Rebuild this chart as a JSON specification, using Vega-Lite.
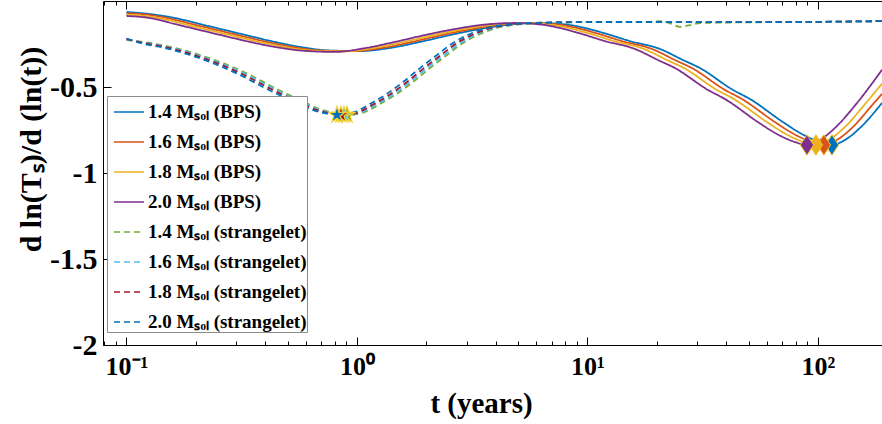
{
  "$schema": "https://vega.github.io/schema/vega-lite/v6.json",
  "width": 779,
  "height": 344,
  "autosize": "none",
  "padding": {"left": 103, "top": 1, "right": 0, "bottom": 79},
  "background": "white",
  "config": {"view": {"stroke": null}, "font": "Liberation Serif"},
  "datasets": {
    "curves": [
      {"series": "1.4 Mₛₒₗ (BPS)", "t": 0.1, "v": -0.064},
      {"series": "1.4 Mₛₒₗ (BPS)", "t": 0.1265, "v": -0.076},
      {"series": "1.4 Mₛₒₗ (BPS)", "t": 0.1623, "v": -0.099},
      {"series": "1.4 Mₛₒₗ (BPS)", "t": 0.2084, "v": -0.134},
      {"series": "1.4 Mₛₒₗ (BPS)", "t": 0.2676, "v": -0.169},
      {"series": "1.4 Mₛₒₗ (BPS)", "t": 0.3435, "v": -0.204},
      {"series": "1.4 Mₛₒₗ (BPS)", "t": 0.4408, "v": -0.238},
      {"series": "1.4 Mₛₒₗ (BPS)", "t": 0.5659, "v": -0.267},
      {"series": "1.4 Mₛₒₗ (BPS)", "t": 0.7637, "v": -0.288},
      {"series": "1.4 Mₛₒₗ (BPS)", "t": 1.03, "v": -0.291},
      {"series": "1.4 Mₛₒₗ (BPS)", "t": 1.391, "v": -0.273},
      {"series": "1.4 Mₛₒₗ (BPS)", "t": 1.877, "v": -0.238},
      {"series": "1.4 Mₛₒₗ (BPS)", "t": 2.532, "v": -0.198},
      {"series": "1.4 Mₛₒₗ (BPS)", "t": 3.418, "v": -0.163},
      {"series": "1.4 Mₛₒₗ (BPS)", "t": 4.611, "v": -0.137},
      {"series": "1.4 Mₛₒₗ (BPS)", "t": 6.221, "v": -0.128},
      {"series": "1.4 Mₛₒₗ (BPS)", "t": 8.398, "v": -0.14},
      {"series": "1.4 Mₛₒₗ (BPS)", "t": 11.33, "v": -0.18},
      {"series": "1.4 Mₛₒₗ (BPS)", "t": 15.29, "v": -0.233},
      {"series": "1.4 Mₛₒₗ (BPS)", "t": 20.63, "v": -0.279},
      {"series": "1.4 Mₛₒₗ (BPS)", "t": 25.96, "v": -0.343},
      {"series": "1.4 Mₛₒₗ (BPS)", "t": 30.77, "v": -0.39},
      {"series": "1.4 Mₛₒₗ (BPS)", "t": 42.78, "v": -0.517},
      {"series": "1.4 Mₛₒₗ (BPS)", "t": 50.7, "v": -0.57},
      {"series": "1.4 Mₛₒₗ (BPS)", "t": 70.5, "v": -0.704},
      {"series": "1.4 Mₛₒₗ (BPS)", "t": 83.55, "v": -0.767},
      {"series": "1.4 Mₛₒₗ (BPS)", "t": 102, "v": -0.82},
      {"series": "1.4 Mₛₒₗ (BPS)", "t": 115, "v": -0.837},
      {"series": "1.4 Mₛₒₗ (BPS)", "t": 130.9, "v": -0.808},
      {"series": "1.4 Mₛₒₗ (BPS)", "t": 152.1, "v": -0.738},
      {"series": "1.4 Mₛₒₗ (BPS)", "t": 189.6, "v": -0.593},

      {"series": "1.6 Mₛₒₗ (BPS)", "t": 0.1, "v": -0.072},
      {"series": "1.6 Mₛₒₗ (BPS)", "t": 0.1168, "v": -0.076},
      {"series": "1.6 Mₛₒₗ (BPS)", "t": 0.1498, "v": -0.099},
      {"series": "1.6 Mₛₒₗ (BPS)", "t": 0.1924, "v": -0.134},
      {"series": "1.6 Mₛₒₗ (BPS)", "t": 0.247, "v": -0.169},
      {"series": "1.6 Mₛₒₗ (BPS)", "t": 0.3171, "v": -0.204},
      {"series": "1.6 Mₛₒₗ (BPS)", "t": 0.4069, "v": -0.238},
      {"series": "1.6 Mₛₒₗ (BPS)", "t": 0.5223, "v": -0.267},
      {"series": "1.6 Mₛₒₗ (BPS)", "t": 0.7049, "v": -0.288},
      {"series": "1.6 Mₛₒₗ (BPS)", "t": 0.9507, "v": -0.292},
      {"series": "1.6 Mₛₒₗ (BPS)", "t": 1.284, "v": -0.273},
      {"series": "1.6 Mₛₒₗ (BPS)", "t": 1.732, "v": -0.238},
      {"series": "1.6 Mₛₒₗ (BPS)", "t": 2.337, "v": -0.198},
      {"series": "1.6 Mₛₒₗ (BPS)", "t": 3.155, "v": -0.163},
      {"series": "1.6 Mₛₒₗ (BPS)", "t": 4.256, "v": -0.137},
      {"series": "1.6 Mₛₒₗ (BPS)", "t": 5.742, "v": -0.128},
      {"series": "1.6 Mₛₒₗ (BPS)", "t": 7.751, "v": -0.14},
      {"series": "1.6 Mₛₒₗ (BPS)", "t": 10.46, "v": -0.18},
      {"series": "1.6 Mₛₒₗ (BPS)", "t": 14.11, "v": -0.233},
      {"series": "1.6 Mₛₒₗ (BPS)", "t": 19.04, "v": -0.279},
      {"series": "1.6 Mₛₒₗ (BPS)", "t": 23.96, "v": -0.343},
      {"series": "1.6 Mₛₒₗ (BPS)", "t": 28.4, "v": -0.39},
      {"series": "1.6 Mₛₒₗ (BPS)", "t": 39.49, "v": -0.517},
      {"series": "1.6 Mₛₒₗ (BPS)", "t": 46.8, "v": -0.57},
      {"series": "1.6 Mₛₒₗ (BPS)", "t": 65.07, "v": -0.704},
      {"series": "1.6 Mₛₒₗ (BPS)", "t": 77.12, "v": -0.767},
      {"series": "1.6 Mₛₒₗ (BPS)", "t": 94.15, "v": -0.82},
      {"series": "1.6 Mₛₒₗ (BPS)", "t": 106.1, "v": -0.837},
      {"series": "1.6 Mₛₒₗ (BPS)", "t": 120.8, "v": -0.808},
      {"series": "1.6 Mₛₒₗ (BPS)", "t": 140.4, "v": -0.738},
      {"series": "1.6 Mₛₒₗ (BPS)", "t": 175, "v": -0.593},
      {"series": "1.6 Mₛₒₗ (BPS)", "t": 189.6, "v": -0.54},

      {"series": "1.8 Mₛₒₗ (BPS)", "t": 0.1, "v": -0.079},
      {"series": "1.8 Mₛₒₗ (BPS)", "t": 0.1383, "v": -0.099},
      {"series": "1.8 Mₛₒₗ (BPS)", "t": 0.1776, "v": -0.134},
      {"series": "1.8 Mₛₒₗ (BPS)", "t": 0.228, "v": -0.169},
      {"series": "1.8 Mₛₒₗ (BPS)", "t": 0.2927, "v": -0.204},
      {"series": "1.8 Mₛₒₗ (BPS)", "t": 0.3756, "v": -0.238},
      {"series": "1.8 Mₛₒₗ (BPS)", "t": 0.4821, "v": -0.267},
      {"series": "1.8 Mₛₒₗ (BPS)", "t": 0.6507, "v": -0.289},
      {"series": "1.8 Mₛₒₗ (BPS)", "t": 0.8776, "v": -0.293},
      {"series": "1.8 Mₛₒₗ (BPS)", "t": 1.185, "v": -0.273},
      {"series": "1.8 Mₛₒₗ (BPS)", "t": 1.599, "v": -0.238},
      {"series": "1.8 Mₛₒₗ (BPS)", "t": 2.157, "v": -0.198},
      {"series": "1.8 Mₛₒₗ (BPS)", "t": 2.912, "v": -0.163},
      {"series": "1.8 Mₛₒₗ (BPS)", "t": 3.929, "v": -0.137},
      {"series": "1.8 Mₛₒₗ (BPS)", "t": 5.3, "v": -0.128},
      {"series": "1.8 Mₛₒₗ (BPS)", "t": 7.155, "v": -0.14},
      {"series": "1.8 Mₛₒₗ (BPS)", "t": 9.653, "v": -0.18},
      {"series": "1.8 Mₛₒₗ (BPS)", "t": 13.03, "v": -0.233},
      {"series": "1.8 Mₛₒₗ (BPS)", "t": 17.58, "v": -0.279},
      {"series": "1.8 Mₛₒₗ (BPS)", "t": 22.12, "v": -0.343},
      {"series": "1.8 Mₛₒₗ (BPS)", "t": 26.22, "v": -0.39},
      {"series": "1.8 Mₛₒₗ (BPS)", "t": 36.45, "v": -0.517},
      {"series": "1.8 Mₛₒₗ (BPS)", "t": 43.2, "v": -0.57},
      {"series": "1.8 Mₛₒₗ (BPS)", "t": 60.07, "v": -0.704},
      {"series": "1.8 Mₛₒₗ (BPS)", "t": 71.18, "v": -0.767},
      {"series": "1.8 Mₛₒₗ (BPS)", "t": 86.9, "v": -0.82},
      {"series": "1.8 Mₛₒₗ (BPS)", "t": 97.98, "v": -0.837},
      {"series": "1.8 Mₛₒₗ (BPS)", "t": 111.5, "v": -0.808},
      {"series": "1.8 Mₛₒₗ (BPS)", "t": 129.6, "v": -0.738},
      {"series": "1.8 Mₛₒₗ (BPS)", "t": 161.5, "v": -0.593},
      {"series": "1.8 Mₛₒₗ (BPS)", "t": 189.6, "v": -0.48},

      {"series": "2.0 Mₛₒₗ (BPS)", "t": 0.1, "v": -0.087},
      {"series": "2.0 Mₛₒₗ (BPS)", "t": 0.1264, "v": -0.099},
      {"series": "2.0 Mₛₒₗ (BPS)", "t": 0.1623, "v": -0.134},
      {"series": "2.0 Mₛₒₗ (BPS)", "t": 0.2085, "v": -0.169},
      {"series": "2.0 Mₛₒₗ (BPS)", "t": 0.2676, "v": -0.204},
      {"series": "2.0 Mₛₒₗ (BPS)", "t": 0.3434, "v": -0.238},
      {"series": "2.0 Mₛₒₗ (BPS)", "t": 0.4408, "v": -0.267},
      {"series": "2.0 Mₛₒₗ (BPS)", "t": 0.5949, "v": -0.29},
      {"series": "2.0 Mₛₒₗ (BPS)", "t": 0.8024, "v": -0.296},
      {"series": "2.0 Mₛₒₗ (BPS)", "t": 1.084, "v": -0.274},
      {"series": "2.0 Mₛₒₗ (BPS)", "t": 1.462, "v": -0.238},
      {"series": "2.0 Mₛₒₗ (BPS)", "t": 1.972, "v": -0.198},
      {"series": "2.0 Mₛₒₗ (BPS)", "t": 2.663, "v": -0.163},
      {"series": "2.0 Mₛₒₗ (BPS)", "t": 3.592, "v": -0.137},
      {"series": "2.0 Mₛₒₗ (BPS)", "t": 4.846, "v": -0.128},
      {"series": "2.0 Mₛₒₗ (BPS)", "t": 6.542, "v": -0.14},
      {"series": "2.0 Mₛₒₗ (BPS)", "t": 8.826, "v": -0.18},
      {"series": "2.0 Mₛₒₗ (BPS)", "t": 11.91, "v": -0.233},
      {"series": "2.0 Mₛₒₗ (BPS)", "t": 16.07, "v": -0.279},
      {"series": "2.0 Mₛₒₗ (BPS)", "t": 20.22, "v": -0.343},
      {"series": "2.0 Mₛₒₗ (BPS)", "t": 23.97, "v": -0.39},
      {"series": "2.0 Mₛₒₗ (BPS)", "t": 33.33, "v": -0.517},
      {"series": "2.0 Mₛₒₗ (BPS)", "t": 39.5, "v": -0.57},
      {"series": "2.0 Mₛₒₗ (BPS)", "t": 54.92, "v": -0.704},
      {"series": "2.0 Mₛₒₗ (BPS)", "t": 65.08, "v": -0.767},
      {"series": "2.0 Mₛₒₗ (BPS)", "t": 79.46, "v": -0.82},
      {"series": "2.0 Mₛₒₗ (BPS)", "t": 89.59, "v": -0.837},
      {"series": "2.0 Mₛₒₗ (BPS)", "t": 101.97, "v": -0.808},
      {"series": "2.0 Mₛₒₗ (BPS)", "t": 118.5, "v": -0.738},
      {"series": "2.0 Mₛₒₗ (BPS)", "t": 147.7, "v": -0.593},
      {"series": "2.0 Mₛₒₗ (BPS)", "t": 189.6, "v": -0.4},

      {"series": "1.4 Mₛₒₗ (strangelet)", "t": 0.1, "v": -0.227},
      {"series": "1.4 Mₛₒₗ (strangelet)", "t": 0.1265, "v": -0.244},
      {"series": "1.4 Mₛₒₗ (strangelet)", "t": 0.1623, "v": -0.273},
      {"series": "1.4 Mₛₒₗ (strangelet)", "t": 0.2084, "v": -0.314},
      {"series": "1.4 Mₛₒₗ (strangelet)", "t": 0.2676, "v": -0.366},
      {"series": "1.4 Mₛₒₗ (strangelet)", "t": 0.3435, "v": -0.43},
      {"series": "1.4 Mₛₒₗ (strangelet)", "t": 0.4408, "v": -0.506},
      {"series": "1.4 Mₛₒₗ (strangelet)", "t": 0.5659, "v": -0.576},
      {"series": "1.4 Mₛₒₗ (strangelet)", "t": 0.6909, "v": -0.628},
      {"series": "1.4 Mₛₒₗ (strangelet)", "t": 0.8436, "v": -0.657},
      {"series": "1.4 Mₛₒₗ (strangelet)", "t": 0.9325, "v": -0.663},
      {"series": "1.4 Mₛₒₗ (strangelet)", "t": 1.083, "v": -0.645},
      {"series": "1.4 Mₛₒₗ (strangelet)", "t": 1.258, "v": -0.599},
      {"series": "1.4 Mₛₒₗ (strangelet)", "t": 1.462, "v": -0.547},
      {"series": "1.4 Mₛₒₗ (strangelet)", "t": 1.75, "v": -0.471},
      {"series": "1.4 Mₛₒₗ (strangelet)", "t": 2.074, "v": -0.39},
      {"series": "1.4 Mₛₒₗ (strangelet)", "t": 2.458, "v": -0.314},
      {"series": "1.4 Mₛₒₗ (strangelet)", "t": 2.884, "v": -0.244},
      {"series": "1.4 Mₛₒₗ (strangelet)", "t": 3.418, "v": -0.192},
      {"series": "1.4 Mₛₒₗ (strangelet)", "t": 4.05, "v": -0.157},
      {"series": "1.4 Mₛₒₗ (strangelet)", "t": 4.751, "v": -0.14},
      {"series": "1.4 Mₛₒₗ (strangelet)", "t": 5.63, "v": -0.131},
      {"series": "1.4 Mₛₒₗ (strangelet)", "t": 7.598, "v": -0.125},
      {"series": "1.4 Mₛₒₗ (strangelet)", "t": 11.33, "v": -0.122},
      {"series": "1.4 Mₛₒₗ (strangelet)", "t": 18.67, "v": -0.121},
      {"series": "1.4 Mₛₒₗ (strangelet)", "t": 20.6, "v": -0.117},
      {"series": "1.4 Mₛₒₗ (strangelet)", "t": 22.8, "v": -0.13},
      {"series": "1.4 Mₛₒₗ (strangelet)", "t": 25.19, "v": -0.15},
      {"series": "1.4 Mₛₒₗ (strangelet)", "t": 27.85, "v": -0.14},
      {"series": "1.4 Mₛₒₗ (strangelet)", "t": 30.77, "v": -0.128},
      {"series": "1.4 Mₛₒₗ (strangelet)", "t": 50.7, "v": -0.124},
      {"series": "1.4 Mₛₒₗ (strangelet)", "t": 83.55, "v": -0.122},
      {"series": "1.4 Mₛₒₗ (strangelet)", "t": 189.6, "v": -0.117},

      {"series": "1.6 Mₛₒₗ (strangelet)", "t": 0.1, "v": -0.224},
      {"series": "1.6 Mₛₒₗ (strangelet)", "t": 0.1228, "v": -0.244},
      {"series": "1.6 Mₛₒₗ (strangelet)", "t": 0.1575, "v": -0.273},
      {"series": "1.6 Mₛₒₗ (strangelet)", "t": 0.2023, "v": -0.314},
      {"series": "1.6 Mₛₒₗ (strangelet)", "t": 0.2597, "v": -0.366},
      {"series": "1.6 Mₛₒₗ (strangelet)", "t": 0.3334, "v": -0.43},
      {"series": "1.6 Mₛₒₗ (strangelet)", "t": 0.4278, "v": -0.506},
      {"series": "1.6 Mₛₒₗ (strangelet)", "t": 0.5492, "v": -0.576},
      {"series": "1.6 Mₛₒₗ (strangelet)", "t": 0.6705, "v": -0.628},
      {"series": "1.6 Mₛₒₗ (strangelet)", "t": 0.8187, "v": -0.657},
      {"series": "1.6 Mₛₒₗ (strangelet)", "t": 0.905, "v": -0.663},
      {"series": "1.6 Mₛₒₗ (strangelet)", "t": 1.051, "v": -0.645},
      {"series": "1.6 Mₛₒₗ (strangelet)", "t": 1.221, "v": -0.599},
      {"series": "1.6 Mₛₒₗ (strangelet)", "t": 1.419, "v": -0.547},
      {"series": "1.6 Mₛₒₗ (strangelet)", "t": 1.698, "v": -0.471},
      {"series": "1.6 Mₛₒₗ (strangelet)", "t": 2.013, "v": -0.39},
      {"series": "1.6 Mₛₒₗ (strangelet)", "t": 2.385, "v": -0.314},
      {"series": "1.6 Mₛₒₗ (strangelet)", "t": 2.799, "v": -0.244},
      {"series": "1.6 Mₛₒₗ (strangelet)", "t": 3.317, "v": -0.192},
      {"series": "1.6 Mₛₒₗ (strangelet)", "t": 3.931, "v": -0.157},
      {"series": "1.6 Mₛₒₗ (strangelet)", "t": 4.611, "v": -0.14},
      {"series": "1.6 Mₛₒₗ (strangelet)", "t": 5.464, "v": -0.131},
      {"series": "1.6 Mₛₒₗ (strangelet)", "t": 7.374, "v": -0.125},
      {"series": "1.6 Mₛₒₗ (strangelet)", "t": 11.33, "v": -0.122},
      {"series": "1.6 Mₛₒₗ (strangelet)", "t": 18.67, "v": -0.122},
      {"series": "1.6 Mₛₒₗ (strangelet)", "t": 30.77, "v": -0.123},
      {"series": "1.6 Mₛₒₗ (strangelet)", "t": 50.7, "v": -0.123},
      {"series": "1.6 Mₛₒₗ (strangelet)", "t": 83.55, "v": -0.122},
      {"series": "1.6 Mₛₒₗ (strangelet)", "t": 189.6, "v": -0.117},

      {"series": "1.8 Mₛₒₗ (strangelet)", "t": 0.1, "v": -0.221},
      {"series": "1.8 Mₛₒₗ (strangelet)", "t": 0.1191, "v": -0.244},
      {"series": "1.8 Mₛₒₗ (strangelet)", "t": 0.1529, "v": -0.273},
      {"series": "1.8 Mₛₒₗ (strangelet)", "t": 0.1963, "v": -0.314},
      {"series": "1.8 Mₛₒₗ (strangelet)", "t": 0.252, "v": -0.366},
      {"series": "1.8 Mₛₒₗ (strangelet)", "t": 0.3235, "v": -0.43},
      {"series": "1.8 Mₛₒₗ (strangelet)", "t": 0.4151, "v": -0.506},
      {"series": "1.8 Mₛₒₗ (strangelet)", "t": 0.533, "v": -0.576},
      {"series": "1.8 Mₛₒₗ (strangelet)", "t": 0.6507, "v": -0.628},
      {"series": "1.8 Mₛₒₗ (strangelet)", "t": 0.7945, "v": -0.657},
      {"series": "1.8 Mₛₒₗ (strangelet)", "t": 0.8782, "v": -0.663},
      {"series": "1.8 Mₛₒₗ (strangelet)", "t": 1.02, "v": -0.645},
      {"series": "1.8 Mₛₒₗ (strangelet)", "t": 1.185, "v": -0.599},
      {"series": "1.8 Mₛₒₗ (strangelet)", "t": 1.377, "v": -0.547},
      {"series": "1.8 Mₛₒₗ (strangelet)", "t": 1.648, "v": -0.471},
      {"series": "1.8 Mₛₒₗ (strangelet)", "t": 1.953, "v": -0.39},
      {"series": "1.8 Mₛₒₗ (strangelet)", "t": 2.315, "v": -0.314},
      {"series": "1.8 Mₛₒₗ (strangelet)", "t": 2.716, "v": -0.244},
      {"series": "1.8 Mₛₒₗ (strangelet)", "t": 3.219, "v": -0.192},
      {"series": "1.8 Mₛₒₗ (strangelet)", "t": 3.814, "v": -0.157},
      {"series": "1.8 Mₛₒₗ (strangelet)", "t": 4.474, "v": -0.14},
      {"series": "1.8 Mₛₒₗ (strangelet)", "t": 5.302, "v": -0.131},
      {"series": "1.8 Mₛₒₗ (strangelet)", "t": 7.156, "v": -0.125},
      {"series": "1.8 Mₛₒₗ (strangelet)", "t": 11.33, "v": -0.122},
      {"series": "1.8 Mₛₒₗ (strangelet)", "t": 18.67, "v": -0.122},
      {"series": "1.8 Mₛₒₗ (strangelet)", "t": 30.77, "v": -0.123},
      {"series": "1.8 Mₛₒₗ (strangelet)", "t": 50.7, "v": -0.123},
      {"series": "1.8 Mₛₒₗ (strangelet)", "t": 83.55, "v": -0.122},
      {"series": "1.8 Mₛₒₗ (strangelet)", "t": 189.6, "v": -0.117},

      {"series": "2.0 Mₛₒₗ (strangelet)", "t": 0.1, "v": -0.218},
      {"series": "2.0 Mₛₒₗ (strangelet)", "t": 0.1145, "v": -0.244},
      {"series": "2.0 Mₛₒₗ (strangelet)", "t": 0.1469, "v": -0.273},
      {"series": "2.0 Mₛₒₗ (strangelet)", "t": 0.1886, "v": -0.314},
      {"series": "2.0 Mₛₒₗ (strangelet)", "t": 0.2422, "v": -0.366},
      {"series": "2.0 Mₛₒₗ (strangelet)", "t": 0.3109, "v": -0.43},
      {"series": "2.0 Mₛₒₗ (strangelet)", "t": 0.3989, "v": -0.506},
      {"series": "2.0 Mₛₒₗ (strangelet)", "t": 0.5121, "v": -0.576},
      {"series": "2.0 Mₛₒₗ (strangelet)", "t": 0.6253, "v": -0.628},
      {"series": "2.0 Mₛₒₗ (strangelet)", "t": 0.7635, "v": -0.657},
      {"series": "2.0 Mₛₒₗ (strangelet)", "t": 0.8439, "v": -0.663},
      {"series": "2.0 Mₛₒₗ (strangelet)", "t": 0.9801, "v": -0.645},
      {"series": "2.0 Mₛₒₗ (strangelet)", "t": 1.138, "v": -0.599},
      {"series": "2.0 Mₛₒₗ (strangelet)", "t": 1.323, "v": -0.547},
      {"series": "2.0 Mₛₒₗ (strangelet)", "t": 1.584, "v": -0.471},
      {"series": "2.0 Mₛₒₗ (strangelet)", "t": 1.877, "v": -0.39},
      {"series": "2.0 Mₛₒₗ (strangelet)", "t": 2.224, "v": -0.314},
      {"series": "2.0 Mₛₒₗ (strangelet)", "t": 2.61, "v": -0.244},
      {"series": "2.0 Mₛₒₗ (strangelet)", "t": 3.093, "v": -0.192},
      {"series": "2.0 Mₛₒₗ (strangelet)", "t": 3.665, "v": -0.157},
      {"series": "2.0 Mₛₒₗ (strangelet)", "t": 4.3, "v": -0.14},
      {"series": "2.0 Mₛₒₗ (strangelet)", "t": 5.095, "v": -0.131},
      {"series": "2.0 Mₛₒₗ (strangelet)", "t": 6.876, "v": -0.125},
      {"series": "2.0 Mₛₒₗ (strangelet)", "t": 11.33, "v": -0.122},
      {"series": "2.0 Mₛₒₗ (strangelet)", "t": 18.67, "v": -0.122},
      {"series": "2.0 Mₛₒₗ (strangelet)", "t": 30.77, "v": -0.123},
      {"series": "2.0 Mₛₒₗ (strangelet)", "t": 50.7, "v": -0.123},
      {"series": "2.0 Mₛₒₗ (strangelet)", "t": 83.55, "v": -0.122},
      {"series": "2.0 Mₛₒₗ (strangelet)", "t": 189.6, "v": -0.117}
    ],
    "diamonds": [
      {"series": "1.4 Mₛₒₗ (BPS)", "t": 115, "v": -0.837},
      {"series": "1.6 Mₛₒₗ (BPS)", "t": 106.1, "v": -0.837},
      {"series": "1.8 Mₛₒₗ (BPS)", "t": 97.98, "v": -0.837},
      {"series": "2.0 Mₛₒₗ (BPS)", "t": 89.59, "v": -0.837}
    ],
    "stars": [
      {"series": "1.4 Mₛₒₗ (strangelet)", "t": 0.905, "v": -0.663},
      {"series": "1.6 Mₛₒₗ (strangelet)", "t": 0.878, "v": -0.663},
      {"series": "1.8 Mₛₒₗ (strangelet)", "t": 0.852, "v": -0.663},
      {"series": "2.0 Mₛₒₗ (strangelet)", "t": 0.819, "v": -0.663}
    ]
  },
  "layer": [
    {
      "layer": [
        {
          "data": {"name": "curves"},
          "mark": {"type": "line", "strokeWidth": 1.8, "clip": true, "interpolate": "monotone"},
          "encoding": {
            "x": {
              "field": "t", "type": "quantitative",
              "scale": {"type": "log", "domain": [0.0791, 189.6], "nice": false},
              "axis": {
                "orient": "bottom",
                "values": [0.08, 0.09, 0.1, 0.2, 0.3, 0.4, 0.5, 0.6, 0.7, 0.8, 0.9, 1, 2, 3, 4, 5, 6, 7, 8, 9, 10, 20, 30, 40, 50, 60, 70, 80, 90, 100],
                "labelExpr": "datum.value == 0.1 ? '10⁻¹' : datum.value == 1 ? '10⁰' : datum.value == 10 ? '10¹' : datum.value == 100 ? '10²' : ''",
                "labelOverlap": false,
                "labelFont": "Liberation Serif", "labelFontWeight": "bold", "labelFontSize": 26, "labelColor": "black",
                "labelPadding": 16,
                "tickSize": {"condition": {"test": "datum.value == 0.1 || datum.value == 1 || datum.value == 10 || datum.value == 100", "value": -8}, "value": -4},
                "tickColor": "black", "domainColor": "black", "grid": false,
                "title": "t (years)", "titleFont": "Liberation Serif", "titleFontWeight": "bold", "titleFontSize": 29, "titleColor": "black",
                "titleX": 378, "titleY": 67, "titleBaseline": "alphabetic"
              }
            },
            "y": {
              "field": "v", "type": "quantitative",
              "scale": {"domain": [-2, 0], "nice": false},
              "axis": {
                "values": [-2, -1.5, -1, -0.5],
                "labelExpr": "toString(datum.value)",
                "labelFont": "Liberation Serif", "labelFontWeight": "bold", "labelFontSize": 30, "labelColor": "black",
                "labelPadding": 14, "tickSize": -8, "tickColor": "black", "domainColor": "black", "grid": false,
                "title": "d ln(Tₛ)/d (ln(t))", "titleFont": "Liberation Serif", "titleFontWeight": "bold", "titleFontSize": 30, "titleColor": "black",
                "titleAngle": 270, "titleAlign": "center", "titleAnchor": "middle", "titleY": 148, "titleX": -63, "titleBaseline": "alphabetic"
              }
            },
            "color": {
              "field": "series", "type": "nominal",
              "scale": {
                "domain": ["1.4 Mₛₒₗ (BPS)", "1.6 Mₛₒₗ (BPS)", "1.8 Mₛₒₗ (BPS)", "2.0 Mₛₒₗ (BPS)", "1.4 Mₛₒₗ (strangelet)", "1.6 Mₛₒₗ (strangelet)", "1.8 Mₛₒₗ (strangelet)", "2.0 Mₛₒₗ (strangelet)"],
                "range": ["#0072BD", "#D95319", "#EDB120", "#7E2F8E", "#77AC30", "#4DBEEE", "#A2142F", "#0072BD"]
              },
              "legend": {
                "orient": "none", "legendX": 4, "legendY": 95,
                "title": null, "symbolType": "stroke", "symbolSize": 900, "symbolStrokeWidth": 1.5, "symbolOffset": 6,
                "labelFont": "Liberation Serif", "labelFontWeight": "bold", "labelFontSize": 19, "labelColor": "black", "labelLimit": 400, "labelOffset": 3,
                "rowPadding": 4, "padding": 0, "fillColor": "white", "strokeColor": "#8c8c8c"
              }
            },
            "strokeDash": {
              "field": "series", "type": "nominal",
              "scale": {
                "domain": ["1.4 Mₛₒₗ (BPS)", "1.6 Mₛₒₗ (BPS)", "1.8 Mₛₒₗ (BPS)", "2.0 Mₛₒₗ (BPS)", "1.4 Mₛₒₗ (strangelet)", "1.6 Mₛₒₗ (strangelet)", "1.8 Mₛₒₗ (strangelet)", "2.0 Mₛₒₗ (strangelet)"],
                "range": [[1, 0], [1, 0], [1, 0], [1, 0], [6, 4], [6, 4], [6, 4], [6, 4]]
              },
              "legend": {
                "orient": "none", "legendX": 4, "legendY": 95,
                "title": null, "symbolType": "stroke", "symbolSize": 900, "symbolStrokeWidth": 1.5, "symbolOffset": 6,
                "labelFont": "Liberation Serif", "labelFontWeight": "bold", "labelFontSize": 19, "labelColor": "black", "labelLimit": 400, "labelOffset": 3,
                "rowPadding": 4, "padding": 0, "fillColor": "white", "strokeColor": "#8c8c8c"
              }
            }
          }
        },
        {
          "data": {"name": "diamonds"},
          "mark": {"type": "point", "shape": "M0,-1L0.65,0L0,1L-0.65,0Z", "size": 420, "filled": true, "opacity": 1, "stroke": "#F2C230", "strokeWidth": 1, "clip": true},
          "encoding": {
            "x": {"field": "t", "type": "quantitative"},
            "y": {"field": "v", "type": "quantitative"},
            "fill": {
              "field": "series", "type": "nominal", "legend": null,
              "scale": {
                "domain": ["1.4 Mₛₒₗ (BPS)", "1.6 Mₛₒₗ (BPS)", "1.8 Mₛₒₗ (BPS)", "2.0 Mₛₒₗ (BPS)", "1.4 Mₛₒₗ (strangelet)", "1.6 Mₛₒₗ (strangelet)", "1.8 Mₛₒₗ (strangelet)", "2.0 Mₛₒₗ (strangelet)"],
                "range": ["#0072BD", "#D95319", "#EDB120", "#7E2F8E", "#77AC30", "#4DBEEE", "#A2142F", "#0072BD"]
              }
            }
          }
        },
        {
          "data": {"name": "stars"},
          "mark": {"type": "point", "shape": "M0,-1L0.225,-0.309L0.951,-0.309L0.363,0.118L0.588,0.809L0,0.382L-0.588,0.809L-0.363,0.118L-0.951,-0.309L-0.225,-0.309Z", "size": 300, "filled": true, "opacity": 1, "stroke": "#F2D030", "strokeWidth": 1.2, "clip": true},
          "encoding": {
            "x": {"field": "t", "type": "quantitative"},
            "y": {"field": "v", "type": "quantitative"},
            "fill": {"field": "series", "type": "nominal", "legend": null}
          }
        }
      ]
    },
    {
      "data": {"values": [{"t": 1}]},
      "mark": {"type": "rule", "opacity": 0},
      "encoding": {
        "x": {
          "field": "t", "type": "quantitative",
          "scale": {"type": "log", "domain": [0.0791, 189.6], "nice": false},
          "axis": {
            "orient": "top", "title": null, "labels": false, "grid": false, "domain": true, "domainColor": "black",
            "values": [0.08, 0.09, 0.1, 0.2, 0.3, 0.4, 0.5, 0.6, 0.7, 0.8, 0.9, 1, 2, 3, 4, 5, 6, 7, 8, 9, 10, 20, 30, 40, 50, 60, 70, 80, 90, 100],
            "tickSize": {"condition": {"test": "datum.value == 0.1 || datum.value == 1 || datum.value == 10 || datum.value == 100", "value": -8}, "value": -4},
            "tickColor": "black"
          }
        }
      }
    }
  ],
  "resolve": {"scale": {"x": "independent"}}
}
